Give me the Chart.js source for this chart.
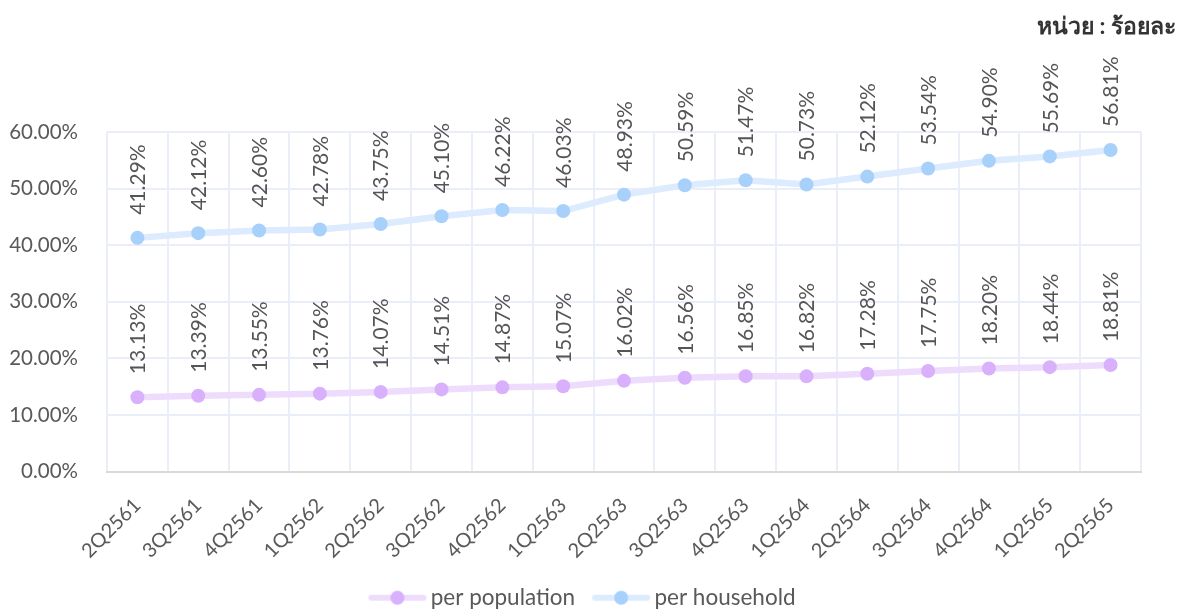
<!DOCTYPE html>
<html>
<head>
<meta charset="utf-8">
<script src="https://cdn.jsdelivr.net/npm/chart.js@4.4.1/dist/chart.umd.min.js"></script>
<style>
html,body{margin:0;padding:0;background:#fff;}
#wrap{width:1184px;height:610px;position:relative;}
</style>
</head>
<body>
<div id="wrap"><canvas id="c" width="1184" height="610"></canvas></div>
<script>
const categories = ['2Q2561','3Q2561','4Q2561','1Q2562','2Q2562','3Q2562','4Q2562','1Q2563','2Q2563','3Q2563','4Q2563','1Q2564','2Q2564','3Q2564','4Q2564','1Q2565','2Q2565'];
const perPopulation = [13.13,13.39,13.55,13.76,14.07,14.51,14.87,15.07,16.02,16.56,16.85,16.82,17.28,17.75,18.20,18.44,18.81];
const perHousehold = [41.29,42.12,42.60,42.78,43.75,45.10,46.22,46.03,48.93,50.59,51.47,50.73,52.12,53.54,54.90,55.69,56.81];
const unitTitle = 'หน่วย : ร้อยละ';

const FONT = 'Lato, "Noto Sans", sans-serif';
const popLine = '#eedcfd', popPoint = '#d8b0fb';
const hhLine = '#dcebfd', hhPoint = '#a7d0fb';

function legendIcon(lineColor, pointColor){
  const cv = document.createElement('canvas');
  cv.width = 66; cv.height = 16;
  const g = cv.getContext('2d');
  g.strokeStyle = lineColor; g.lineWidth = 6; g.lineCap = 'round';
  g.beginPath(); g.moveTo(10,8); g.lineTo(62,8); g.stroke();
  g.fillStyle = pointColor;
  g.beginPath(); g.arc(36,8,7,0,Math.PI*2); g.fill();
  return cv;
}

const dataLabels = {
  id:'dataLabels',
  afterDatasetsDraw(chart){
    const ctx = chart.ctx;
    chart.data.datasets.forEach((ds,i)=>{
      const meta = chart.getDatasetMeta(i);
      meta.data.forEach((pt,j)=>{
        ctx.save();
        ctx.translate(pt.x+1, pt.y-23);
        ctx.rotate(-Math.PI/2);
        ctx.font = '21px ' + FONT;
        ctx.fillStyle = '#555555';
        ctx.textAlign = 'left';
        ctx.textBaseline = 'middle';
        ctx.fillText(ds.data[j].toFixed(2)+'%',0,0);
        ctx.restore();
      });
    });
  }
};
const unitTitlePlugin = {
  id:'unitTitle',
  afterDraw(chart){
    const ctx = chart.ctx;
    ctx.save();
    ctx.font = 'bold 23px ' + FONT;
    ctx.fillStyle = '#333333';
    ctx.textAlign = 'right';
    ctx.textBaseline = 'middle';
    ctx.fillText(unitTitle, 1176, 27);
    ctx.restore();
  }
};
const legendShift = {
  id:'legendShift',
  afterLayout(chart){
    const l = chart.legend;
    if (l){ l.top += 9; l.bottom += 9; l.left += 12; l.right += 12; }
  }
};

new Chart(document.getElementById('c'),{
  type:'line',
  data:{
    labels:categories,
    datasets:[
      {label:'per population',data:perPopulation,borderColor:popLine,backgroundColor:popPoint,pointBackgroundColor:popPoint,pointBorderWidth:0,pointRadius:7,borderWidth:6.5,tension:0,
       legendIcon:legendIcon(popLine,popPoint)},
      {label:'per household',data:perHousehold,borderColor:hhLine,backgroundColor:hhPoint,pointBackgroundColor:hhPoint,pointBorderWidth:0,pointRadius:7,borderWidth:6.5,tension:0,
       legendIcon:legendIcon(hhLine,hhPoint)}
    ]
  },
  options:{
    responsive:false,
    animation:false,
    layout:{padding:{top:132,right:43,left:0,bottom:0}},
    plugins:{
      title:{display:false},
      tooltip:{enabled:false},
      legend:{
        position:'bottom',
        labels:{
          usePointStyle:true,
          pointStyleWidth:50,
          boxHeight:14,
          padding:18,
          color:'#595959',
          font:{size:22.5,family:FONT},
          generateLabels(chart){
            return chart.data.datasets.map((ds,i)=>({
              text:ds.label,
              pointStyle:ds.legendIcon,
              fillStyle:ds.backgroundColor,
              strokeStyle:ds.borderColor,
              lineWidth:0,
              hidden:false,
              datasetIndex:i,
              fontColor:'#595959'
            }));
          }
        }
      }
    },
    scales:{
      x:{
        offset:true,
        grid:{offset:true,color:'#e9eef9',lineWidth:2,drawTicks:false},
        border:{color:'#d9d9d9',width:2},
        ticks:{color:'#595959',font:{size:20,family:FONT},maxRotation:45,minRotation:45,padding:22,autoSkip:false},
        afterFit(s){ s.height = 88; }
      },
      y:{
        min:0,max:60,
        grid:{color:'#e9eef9',lineWidth:2,drawTicks:false},
        border:{display:false},
        ticks:{stepSize:10,color:'#595959',font:{size:20.5,family:FONT},padding:29,callback:v=>v.toFixed(2)+'%'},
        afterFit(s){ s.width = 107; }
      }
    }
  },
  plugins:[dataLabels,unitTitlePlugin,legendShift]
});
</script>
</body>
</html>
